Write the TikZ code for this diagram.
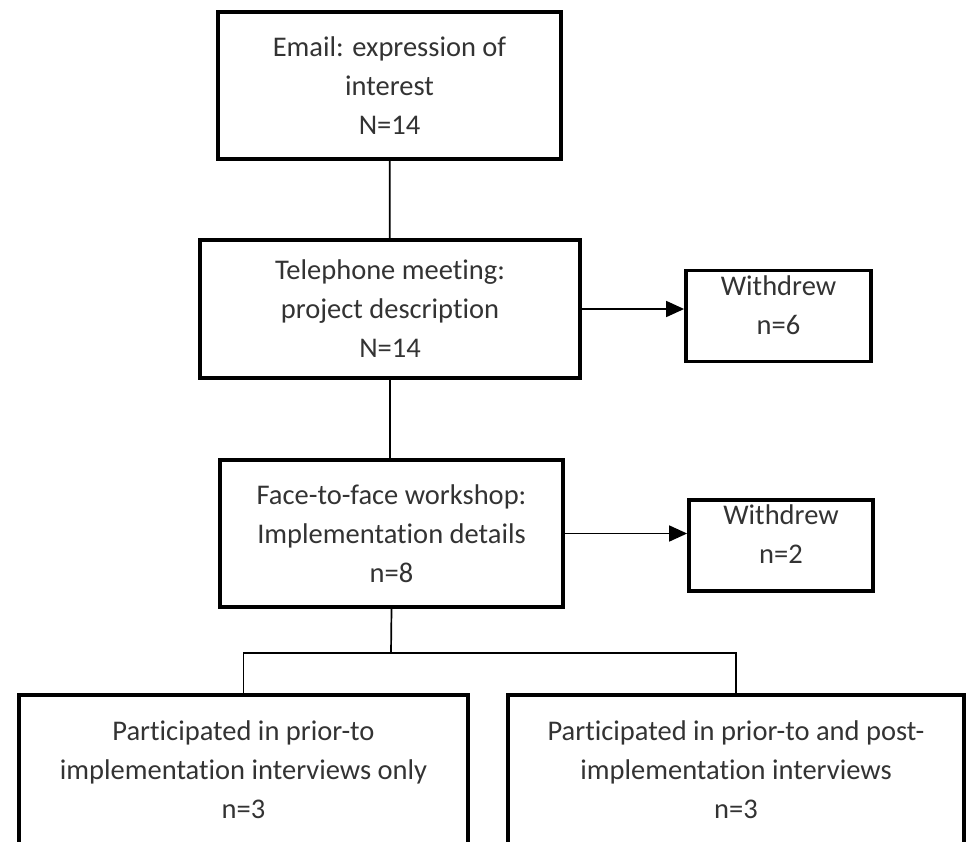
\documentclass[tikz,border=0pt]{standalone}
\usepackage{fontspec}
\setmainfont{Carlito}[Ligatures={NoCommon}, RawFeature={-liga;-clig;-dlig}]
\usetikzlibrary{arrows.meta}
\begin{document}
\begin{tikzpicture}[x=1pt, y=-1pt,
  box/.style={draw, line width=3.8pt, align=center, inner sep=0pt, text=black!80,
    font=\fontsize{28.5}{39}\selectfont},
  wdbox/.style={box, text depth=22pt},
  link/.style={line width=1.7pt},
  arr/.style={line width=1.7pt, -{Triangle[length=18pt, width=16pt]}}]
\useasboundingbox (0,0) rectangle (968,841);
\node[box, minimum width=343pt, minimum height=147pt] (email) at (389.5,85.5) {Email: expression of\\interest\\N=14};
\node[box, minimum width=380pt, minimum height=138pt] (tel) at (390,309) {Telephone meeting:\\project description\\N=14};
\node[box, minimum width=343pt, minimum height=147pt] (f2f) at (391.5,533.5) {Face-to-face workshop:\\Implementation details\\n=8};
\node[wdbox, minimum width=185pt, minimum height=91pt] (wd1) at (778.5,316) {Withdrew\\n=6};
\node[wdbox, minimum width=184pt, minimum height=91pt] (wd2) at (781,545.5) {Withdrew\\n=2};
\node[box, minimum width=449pt, minimum height=150pt] (part1) at (243.5,770) {Participated in prior-to\\implementation interviews only\\n=3};
\node[box, minimum width=456pt, minimum height=150pt] (part2) at (736,770) {Participated in prior-to and post-\\implementation interviews\\n=3};
\coordinate (fork) at (391,653);
% connectors
\draw[link] (email) -- (tel);
\draw[link] (tel.south) -- (tel.south |- f2f.north);
\draw[arr] (tel.east) -- (tel.east -| wd1.west);
\draw[arr] (f2f.east) -- (f2f.east -| wd2.west);
\draw[link] (f2f.south) -- (fork);
\draw[link] (part1.north) |- (fork) -| (part2.north);
\end{tikzpicture}
\end{document}
